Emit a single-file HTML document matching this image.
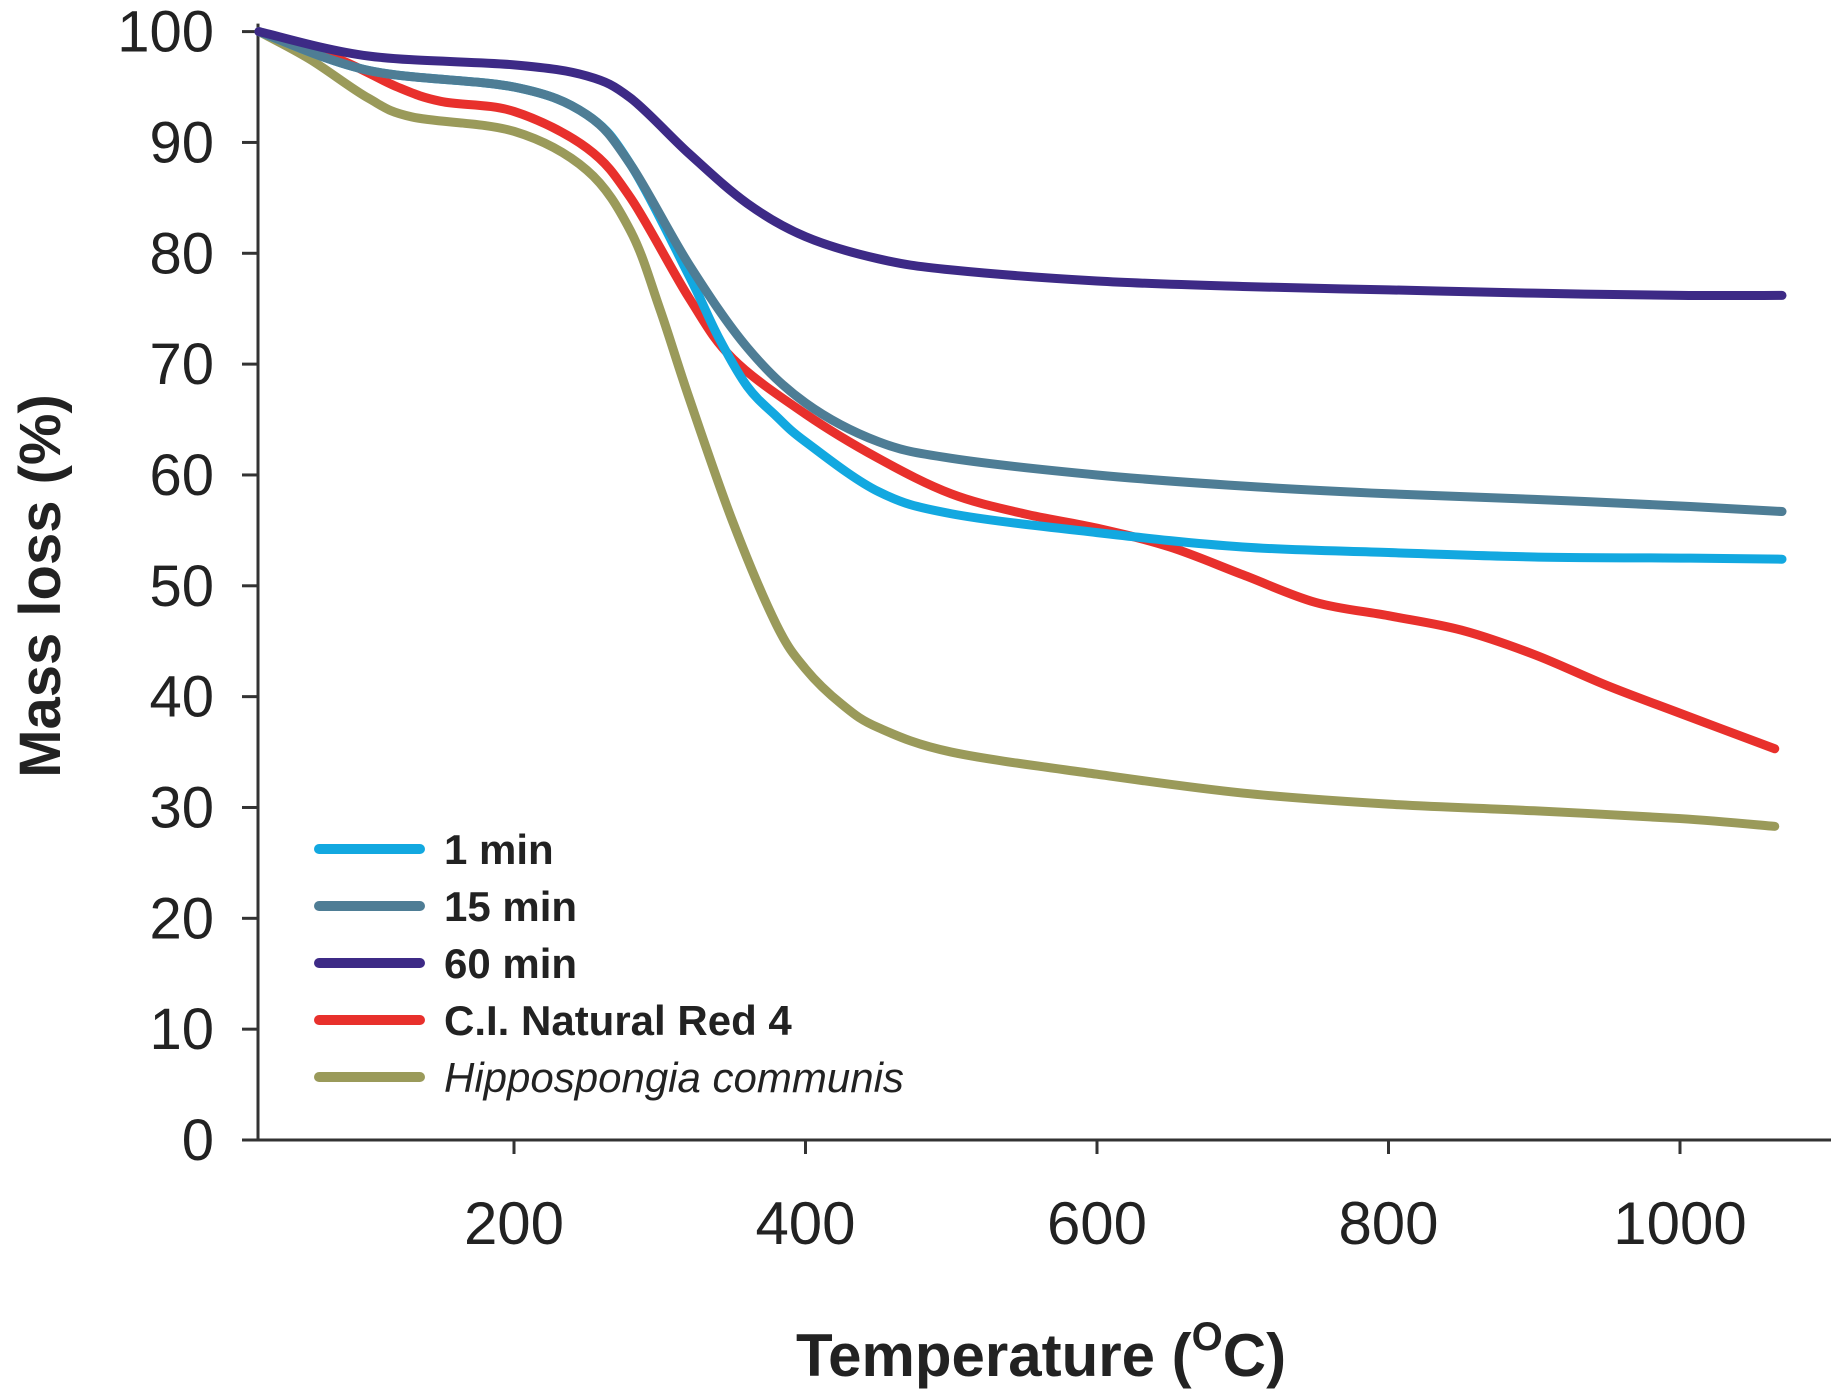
<!DOCTYPE html>
<html><head><meta charset="utf-8"><style>
html,body{margin:0;padding:0;background:#fff;}
svg{display:block;font-family:"Liberation Sans",sans-serif;}
</style></head><body>
<svg id="chart" width="1838" height="1393" viewBox="0 0 1838 1393" xmlns="http://www.w3.org/2000/svg">
<g id="axes"></g>
<g id="series"></g>
<g id="legend"></g>
<text transform="translate(60,586) rotate(-90)" text-anchor="middle" font-size="58" font-weight="bold" fill="#222">Mass loss (%)</text>
<text x="1041" y="1376" text-anchor="middle" font-size="60" font-weight="bold" fill="#222">Temperature (<tspan font-size="40" dy="-26">O</tspan><tspan dy="26">C)</tspan></text>
</svg>
<script>
const yTicks=[0,10,20,30,40,50,60,70,80,90,100];
const xTicks=[200,400,600,800,1000];
const seriesNames=["1 min","15 min","60 min","C.I. Natural Red 4","Hippospongia communis"];
const seriesColors=["#12a8e0","#4e7d95","#3d2a86","#e8302c","#9a9a5a"];
const tMin1=[25,100,200,250,280,320,340,360,380,400,450,500,600,700,800,900,1000,1070];
const vMin1=[100,96.5,95,92.5,88,78,72.5,68,65.3,63,58.5,56.5,54.8,53.5,53,52.6,52.5,52.4];
const tMin15=[25,100,200,250,280,320,360,400,450,500,600,700,800,900,1000,1070];
const vMin15=[100,96.5,95,92.5,88,79,71.5,66.5,63,61.5,60,59,58.3,57.8,57.2,56.7];
const tMin60=[25,100,200,250,280,320,360,400,450,500,600,700,800,900,1000,1070];
const vMin60=[100,97.8,97,96,94,89,84.5,81.5,79.5,78.5,77.5,77,76.7,76.4,76.2,76.2];
const tRed=[25,80,120,150,200,250,280,320,350,400,450,500,550,600,650,700,750,800,850,900,950,1000,1065];
const vRed=[100,97.5,95,93.7,92.8,89.5,85,76,70.5,65.5,61.5,58.3,56.5,55.2,53.5,51,48.5,47.3,46,43.8,41,38.5,35.3];
const tHip=[25,60,100,130,200,250,280,300,320,350,380,400,425,450,500,600,700,800,900,1000,1065];
const vHip=[100,97.5,94,92.3,91,87.5,82,75,67,55.8,46.5,42.5,39.3,37.2,35,33,31.3,30.3,29.7,29,28.3];
const allT=[tMin1,tMin15,tMin60,tRed,tHip];
const allV=[vMin1,vMin15,vMin60,vRed,vHip];
const NS="http://www.w3.org/2000/svg";
const X0=258, PX_PER_200=291.5;
function xs(t){return 514+(t-200)*PX_PER_200/200;}
function ys(v){return 1140-(v)*(1140-31.6)/100;}
function mk(tag,attrs,parent){const e=document.createElementNS(NS,tag);for(const k in attrs)e.setAttribute(k,attrs[k]);parent.appendChild(e);return e;}
const axes=document.getElementById('axes');
let yl=mk('line',{x1:X0,y1:ys(100)-8,x2:X0,y2:1140,stroke:'#333','stroke-width':3},axes);


let xl=mk('line',{x1:242,y1:1140,x2:1831,y2:1140,stroke:'#333','stroke-width':3},axes);


yTicks.forEach(v=>{
 const tk=mk('line',{x1:242,y1:ys(v),x2:X0,y2:ys(v),stroke:'#333','stroke-width':3},axes);
 
 
 const tx=mk('text',{x:214,y:ys(v)+20,'text-anchor':'end','font-size':58,fill:'#222'},axes);
 tx.textContent=v;
 
 
});
xTicks.forEach(t=>{
 const tk=mk('line',{x1:xs(t),y1:1140,x2:xs(t),y2:1154,stroke:'#333','stroke-width':3},axes);
 
 
 const tx=mk('text',{x:xs(t),y:1244,'text-anchor':'middle','font-size':60,fill:'#222'},axes);
 tx.textContent=t;
 
 
});
function pathFor(T,V){
 const p=T.map((t,i)=>[xs(t),ys(V[i])]);
 let d='M'+p[0][0]+','+p[0][1];
 for(let i=0;i<p.length-1;i++){
  const p0=p[Math.max(0,i-1)],p1=p[i],p2=p[i+1],p3=p[Math.min(p.length-1,i+2)];
  const c1=[p1[0]+(p2[0]-p0[0])/6,p1[1]+(p2[1]-p0[1])/6];
  const c2=[p2[0]-(p3[0]-p1[0])/6,p2[1]-(p3[1]-p1[1])/6];
  d+=' C'+c1[0]+','+c1[1]+' '+c2[0]+','+c2[1]+' '+p2[0]+','+p2[1];
 }
 return d;
}
const sg=document.getElementById('series');
const order=[4,3,0,1,2];
order.forEach(i=>{
 const pa=mk('path',{d:pathFor(allT[i],allV[i]),fill:'none',stroke:seriesColors[i],'stroke-width':9,'stroke-linecap':'round','stroke-linejoin':'round'},sg);
 
 
});
const lg=document.getElementById('legend');
const ly=[849,906,963,1020,1077];
seriesNames.forEach((n,i)=>{
 const ln=mk('line',{x1:319,y1:ly[i],x2:420,y2:ly[i],stroke:seriesColors[i],'stroke-width':10,'stroke-linecap':'round'},lg);
 
 
 const tx=mk('text',{x:444,y:ly[i]+15,'font-size':42,'font-weight':'bold',fill:'#222'},lg);
 if(i===4){tx.setAttribute('font-style','italic');tx.setAttribute('font-weight','normal');}
 tx.textContent=n;
 
 
});
</script>
</body></html>
